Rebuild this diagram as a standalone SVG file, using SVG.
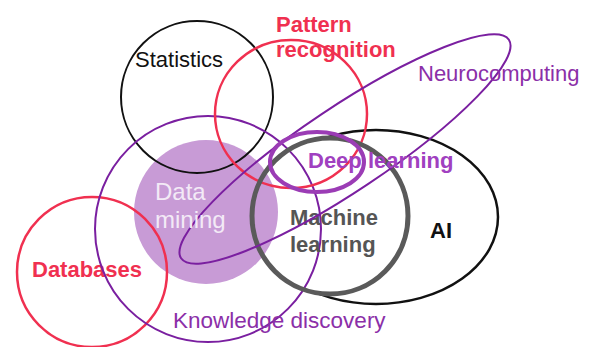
<svg xmlns="http://www.w3.org/2000/svg" width="596" height="347" viewBox="0 0 596 347">
<style>
.o{fill:none}
.t{font-family:"Liberation Sans",Arial,sans-serif;font-size:22px}
.b{font-weight:bold}
</style>
<rect width="596" height="347" fill="#ffffff"/>
<g id="ai"><ellipse class="o" cx="376" cy="217" rx="122" ry="87" stroke="#111" stroke-width="2.5"/>
<text class="t b" x="430" y="238" fill="#111">AI</text></g>
<circle cx="330" cy="216" r="78" fill="#ffffff"/>
<g id="data-mining-fill"><circle cx="206" cy="212" r="72" fill="#c89bd6"/></g>
<g id="connectors"></g>
<g id="statistics"><circle class="o" cx="197" cy="97" r="76" stroke="#111" stroke-width="2"/>
<text class="t" x="135" y="67" fill="#111">Statistics</text></g>
<g id="databases"><circle class="o" cx="92" cy="272" r="75" stroke="#f03050" stroke-width="2.5"/>
<text class="t b" x="32" y="277" fill="#f03050">Databases</text></g>
<g id="knowledge-discovery"><circle class="o" cx="208" cy="229" r="113" stroke="#7a1fa0" stroke-width="2"/>
<text class="t" x="173" y="328" fill="#8b2fa8" style="font-size:22.5px">Knowledge discovery</text></g>
<g id="pattern-recognition"><ellipse class="o" cx="291" cy="114" rx="76" ry="74" stroke="#f03050" stroke-width="2.5"/>
<text class="t b" fill="#f03050"><tspan x="276" y="32">Pattern</tspan><tspan x="276" y="57">recognition</tspan></text></g>
<g id="machine-learning"><circle class="o" cx="330" cy="216" r="78" stroke="#5a5a5a" stroke-width="5"/>
<text class="t b" fill="#555"><tspan x="290" y="225">Machine</tspan><tspan x="290" y="252">learning</tspan></text></g>
<g id="neurocomputing"><ellipse class="o" cx="345" cy="149" rx="197" ry="42" transform="rotate(-33.7 345 149)" stroke="#7a1fa0" stroke-width="2"/>
<text class="t" x="418" y="81" fill="#8b2fa8">Neurocomputing</text></g>
<g id="deep-learning"><ellipse class="o" cx="317" cy="162" rx="47" ry="30" stroke="#9b3cb5" stroke-width="4"/>
<text class="t b" x="308" y="168" fill="#a040c0">Deep learning</text></g>
<g id="data-mining"><text class="t" style="font-size:24px" fill="#f3eaf6"><tspan x="155" y="200">Data</tspan><tspan x="155" y="228">mining</tspan></text></g>
</svg>
